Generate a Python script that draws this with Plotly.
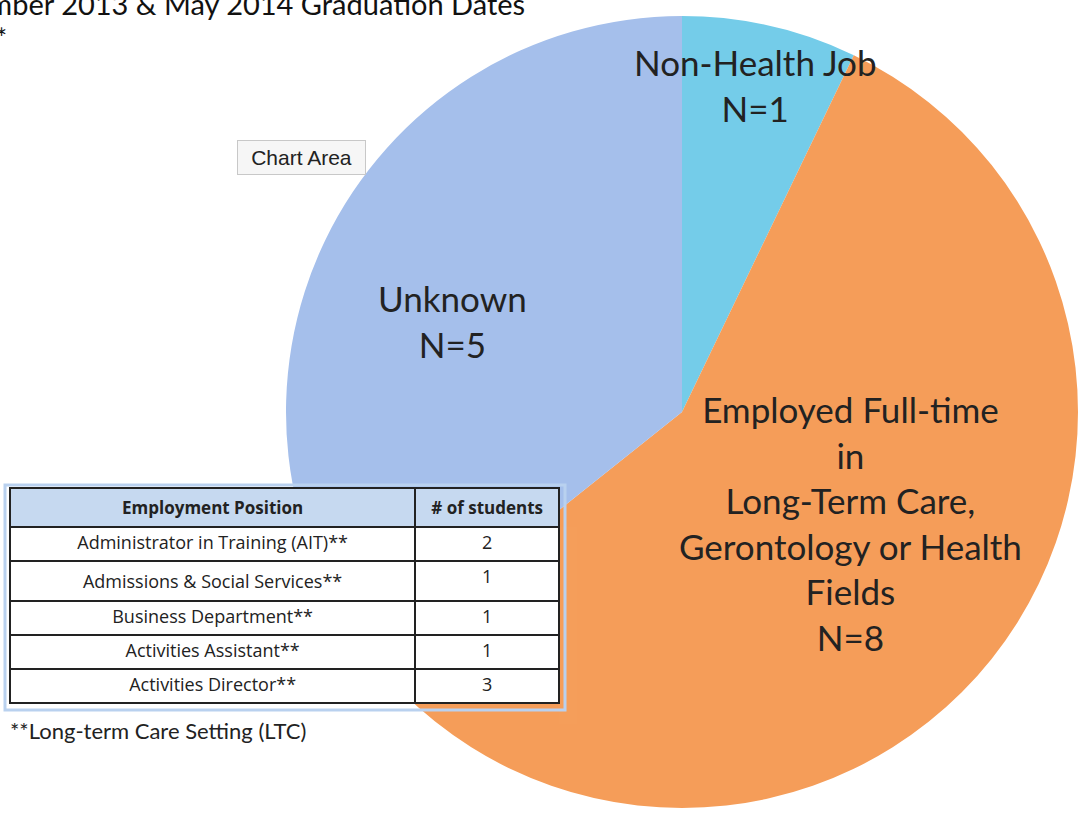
import plotly.graph_objects as go

W, H = 1078, 819

# Data
slice_labels = ["Non-Health Job", "Employed Full-time in Long-Term Care, Gerontology or Health Fields", "Unknown"]
slice_values = [1, 8, 5]
slice_colors = ["#74cce9", "#f59d59", "#a5bfeb"]

header_labels = ["Employment Position", "#\u00a0of\u00a0students"]
positions = ["Administrator in Training (AIT)**", "Admissions &amp; Social Services**",
             "Business Department**", "Activities Assistant**", "Activities Director**"]
students = [2, 1, 1, 1, 3]


def px(x):
    return x / W


def py(y):
    return 1 - y / H


FONT = "Lato, Calibri, sans-serif"
TFONT = "Open Sans, Calibri, sans-serif"

fig = go.Figure()

cx, cy, r = 682, 412, 396
fig.add_trace(go.Pie(
    labels=slice_labels, values=slice_values, sort=False, direction="clockwise",
    rotation=0, marker=dict(colors=slice_colors, line=dict(width=0)),
    textinfo="none", hoverinfo="label+value", showlegend=False,
    domain=dict(x=[px(cx - r), px(cx + r)], y=[py(cy + r), py(cy - r)]),
))

fig.add_trace(go.Table(
    domain=dict(x=[px(10), px(560)], y=[py(725), py(488)]),
    columnwidth=[406, 144],
    header=dict(values=["<b>%s</b>" % h for h in header_labels],
                fill_color="#c6d9f0", line=dict(color="#222222", width=2),
                font=dict(family=TFONT, size=17, color="#222222"), height=34, align="center"),
    cells=dict(values=[positions, students], fill_color="white",
               line=dict(color="#222222", width=2),
               font=dict(family=TFONT, size=18, color="#222222"), height=34, align="center"),
))

annotations = [
    dict(text="Employment Status of Students with December 2013 & May 2014 Graduation Dates",
         x=px(527), y=py(4), xanchor="right", yanchor="middle",
         font=dict(family=FONT, size=29, color="#111111")),
    dict(text="*", x=px(-6), y=py(38), xanchor="left", yanchor="middle",
         font=dict(family=FONT, size=26, color="#111111")),
    dict(text="Non-Health Job<br>N=1", x=px(755), y=py(85), xanchor="center", yanchor="middle",
         font=dict(family=FONT, size=35, color="#222222")),
    dict(text="Unknown<br>N=5", x=px(452), y=py(321), xanchor="center", yanchor="middle",
         font=dict(family=FONT, size=35, color="#222222")),
    dict(text="Employed Full-time<br>in<br>Long-Term Care,<br>Gerontology or Health<br>Fields<br>N=8",
         x=px(850), y=py(523), xanchor="center", yanchor="middle",
         font=dict(family=FONT, size=35, color="#222222")),
    dict(text="Chart Area", x=px(301), y=py(157), xanchor="center", yanchor="middle",
         width=117, height=23, borderpad=5,
         bgcolor="#f6f6f6", bordercolor="#c8c8c8", borderwidth=1,
         font=dict(family="Liberation Sans, Arial", size=21, color="#222222")),
    dict(text="**Long-term Care Setting (LTC)", x=px(8), y=py(730), xanchor="left", yanchor="middle",
         font=dict(family=FONT, size=22, color="#222222")),
]
for a in annotations:
    a.update(xref="paper", yref="paper", showarrow=False)

fig.update_layout(
    width=W, height=H, margin=dict(l=0, r=0, t=0, b=0),
    paper_bgcolor="white", plot_bgcolor="white",
    annotations=annotations,
    shapes=[dict(type="rect", xref="paper", yref="paper", layer="above",
                 x0=px(5), x1=px(565), y0=py(710), y1=py(485),
                 line=dict(color="#b9d1ef", width=3))],
)

fig.write_html("out.html")
